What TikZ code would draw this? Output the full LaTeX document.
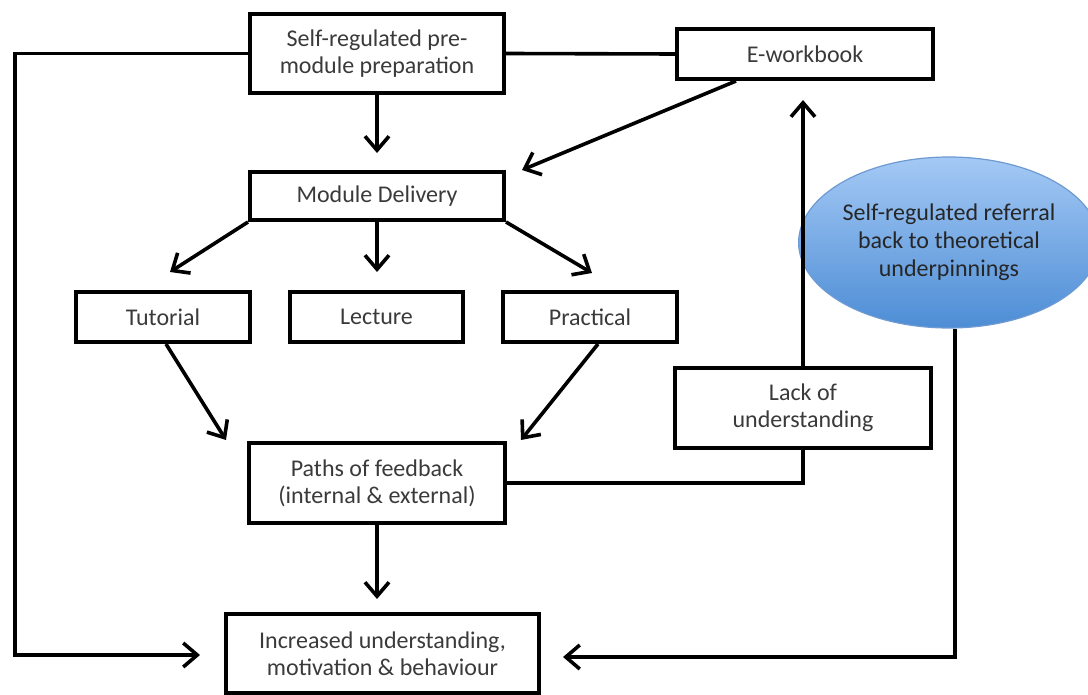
\documentclass[tikz,border=0pt]{standalone}
\usepackage{fontspec}
\setmainfont{Carlito}
\usetikzlibrary{arrows.meta,shapes.geometric}
\definecolor{boxtext}{HTML}{3A3A3A}
\definecolor{ellTop}{HTML}{A4C9F5}
\definecolor{ellBot}{HTML}{4D8DD5}
\definecolor{ellLine}{HTML}{6E9AD2}
\begin{document}
\begin{tikzpicture}[x=0.5pt,y=-0.5pt,
    box/.style={draw,line width=2pt,inner sep=0pt,align=center,text=boxtext,
      font=\fontsize{12}{13.5}\selectfont},
    link/.style={line width=1.8pt},
    arr/.style={link,-{Straight Barb[length=7pt,width=12pt,line width=1.8pt]}}]
    \useasboundingbox (0,0) rectangle (1088,695);

    \node[box,minimum width=127pt,minimum height=39.5pt] (prep)  at (377,53.5) {Self-regulated pre-\\module preparation};
    \node[box,minimum width=128pt,minimum height=25pt]   (ework) at (805,54)   {E-workbook};
    \node[box,minimum width=127pt,minimum height=24pt]   (deliv) at (377,196)  {Module Delivery};
    \node[box,minimum width=87pt,minimum height=25pt]    (tut)   at (163,317)  {Tutorial};
    \node[box,minimum width=86.5pt,minimum height=25pt]  (lect)  at (376.5,317) {Lecture};
    \node[box,minimum width=87pt,minimum height=25pt]    (prac)  at (590,317)  {Practical};
    \node[box,minimum width=128pt,minimum height=40pt]   (lack)  at (803,408)  {Lack of\\understanding};
    \node[box,minimum width=128pt,minimum height=40pt]   (paths) at (377,483)  {Paths of feedback\\(internal \& external)};
    \node[box,minimum width=156.5pt,minimum height=39.5pt] (incr) at (382.5,653.5) {Increased understanding,\\motivation \& behaviour};
    \node[ellipse,draw=ellLine,line width=0.6pt,top color=ellTop,bottom color=ellBot,
      inner sep=0pt,minimum width=136pt,minimum height=85.5pt,align=center,text=black!85,
      font=\fontsize{12}{14}\selectfont] (refer) at (949,242.5)
      {Self-regulated referral\\back to theoretical\\underpinnings};

    % free ends
    \coordinate (prepTip)  at (377,153);
    \coordinate (eworkTip) at (522,170);
    \coordinate (tutTip)   at (170,272);
    \coordinate (lectTip)  at (377,272);
    \coordinate (pracTip)  at (592,273);
    \coordinate (fbTipL)   at (226,440);
    \coordinate (fbTipR)   at (521,440);
    \coordinate (incrTip)  at (377,599);
    \coordinate (lackTip)  at (803,100);
    \coordinate (loopL)    at (15,53.5);
    \coordinate (incrInL)  at (200,655);
    \coordinate (incrInR)  at (563,657);

    \draw[link] (prep.east) -- (ework.west);
    \draw[arr]  (prep.south) -- (prepTip);
    \draw[arr]  ([xshift=30.5pt]ework.south west) -- (eworkTip);
    \draw[arr]  (deliv.south west) -- (tutTip);
    \draw[arr]  (deliv.south) -- (lectTip);
    \draw[arr]  (deliv.south east) -- (pracTip);
    \draw[arr]  ([xshift=1.5pt]tut.south) -- (fbTipL);
    \draw[arr]  ([xshift=4pt]prac.south) -- (fbTipR);
    \draw[arr]  (paths.south) -- (incrTip);
    \draw[link] (lack.south) |- (paths.east);
    \draw[arr]  (lack.north) -- (lackTip);
    \draw[arr]  (prep.west) -- (loopL) |- (incrInL);
    \draw[arr]  ([xshift=3pt]refer.south) |- (incrInR);
\end{tikzpicture}
\end{document}
